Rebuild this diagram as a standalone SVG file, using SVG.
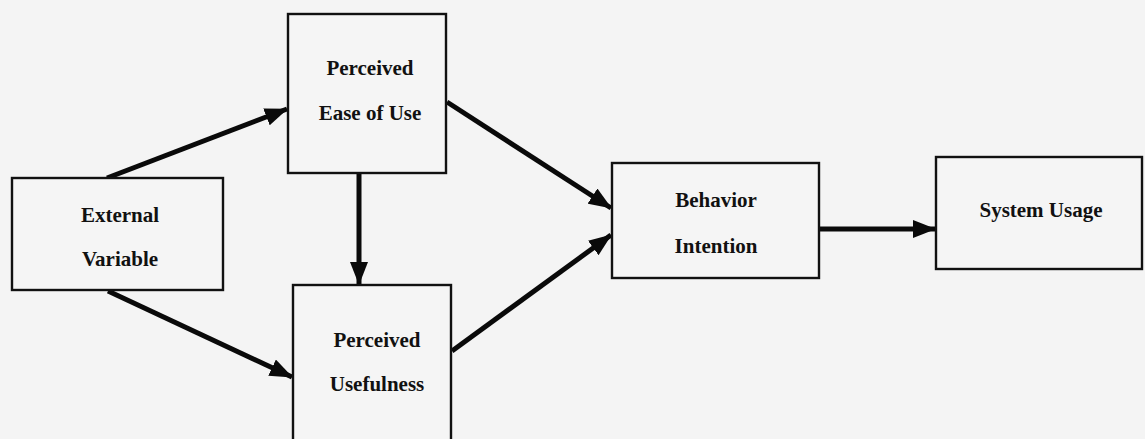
<svg xmlns="http://www.w3.org/2000/svg" width="1145" height="439" viewBox="0 0 1145 439">
<style>
.box{fill:#f5f5f5;stroke:#111;stroke-width:2.4}
.lbl{font-family:"Liberation Serif","Times New Roman",serif;font-weight:bold;font-size:21px;fill:#111;text-anchor:middle}
.arr{stroke:#0a0a0a;stroke-width:5;fill:none;marker-end:url(#ah)}
</style>
<defs>
<marker id="ah" markerUnits="userSpaceOnUse" markerWidth="24" markerHeight="18" refX="22" refY="9" orient="auto">
<path d="M0,0 L23,9 L0,18 z" fill="#0a0a0a"/>
</marker>
</defs>
<rect width="1145" height="439" fill="#f4f4f4"/>
<g id="connectors">
<line class="arr" x1="107" y1="178" x2="287" y2="109"/>
<line class="arr" x1="108" y1="291" x2="292" y2="377"/>
<line class="arr" x1="359" y1="174" x2="359" y2="284"/>
<line class="arr" x1="447" y1="102" x2="611" y2="208"/>
<line class="arr" x1="452" y1="351" x2="611" y2="235"/>
<line class="arr" x1="819" y1="229" x2="935" y2="229"/>
</g>
<g id="external-variable">
<rect class="box" x="12" y="178" width="211" height="112"/>
<text class="lbl" x="120" y="222">External</text>
<text class="lbl" x="120" y="266">Variable</text>
</g>
<g id="perceived-ease-of-use">
<rect class="box" x="288" y="14" width="158" height="159"/>
<text class="lbl" x="370" y="75">Perceived</text>
<text class="lbl" x="370" y="120">Ease of Use</text>
</g>
<g id="perceived-usefulness">
<rect class="box" x="293" y="285" width="158" height="170"/>
<text class="lbl" x="377" y="347">Perceived</text>
<text class="lbl" x="377" y="391">Usefulness</text>
</g>
<g id="behavior-intention">
<rect class="box" x="612" y="163" width="207" height="115"/>
<text class="lbl" x="716" y="207">Behavior</text>
<text class="lbl" x="716" y="253">Intention</text>
</g>
<g id="system-usage">
<rect class="box" x="936" y="157" width="206" height="112"/>
<text class="lbl" x="1041" y="217">System Usage</text>
</g>
</svg>
